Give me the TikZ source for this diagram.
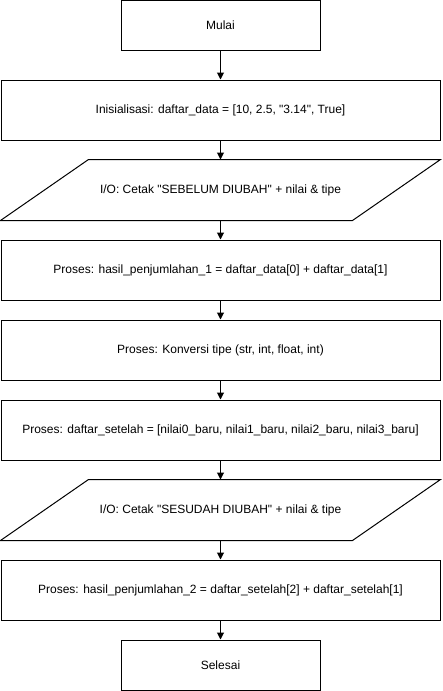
\documentclass[tikz,border=0pt]{standalone}
\usepackage{fontspec}
\setmainfont{Liberation Sans}[Ligatures=TeXOff]
\usetikzlibrary{calc,arrows.meta}
\begin{document}
\begin{tikzpicture}[x=1pt,y=-1pt,
  box/.style={draw, line width=1pt, minimum width=439pt, minimum height=60pt, inner sep=0pt, font=\fontsize{12}{14}\selectfont},
  term/.style={box, minimum width=199pt, minimum height=50pt},
  iobox/.style={box, draw=none},
  arr/.style={line width=1pt, -{Triangle[length=7pt,width=7pt]}}]
\useasboundingbox (0,0) rectangle (442,691);
\node[term] (mulai) at (220.5,25.5) {Mulai};
\node[box] (init) at (220.5,110) {Inisialisasi: daftar\_data = [10, 2.5, "3.14", True]};
\node[iobox] (io1) at (220.5,190) {I/O: Cetak "SEBELUM DIUBAH" + nilai \& tipe};
\draw[line width=1pt] ($(io1.north west)+(88,0)$) -- (io1.north east) -- ($(io1.south east)+(-88,0)$) -- (io1.south west) -- cycle;
\node[box] (p1) at (220.5,270) {Proses: hasil\_penjumlahan\_1 = daftar\_data[0] + daftar\_data[1]};
\node[box] (konv) at (220.5,350) {Proses: Konversi tipe (str, int, float, int)};
\node[box] (ds) at (220.5,430) {Proses: daftar\_setelah = [nilai0\_baru, nilai1\_baru, nilai2\_baru, nilai3\_baru]};
\node[iobox] (io2) at (220.5,510) {I/O: Cetak "SESUDAH DIUBAH" + nilai \& tipe};
\draw[line width=1pt] ($(io2.north west)+(88,0)$) -- (io2.north east) -- ($(io2.south east)+(-88,0)$) -- (io2.south west) -- cycle;
\node[box] (p2) at (220.5,590) {Proses: hasil\_penjumlahan\_2 = daftar\_setelah[2] + daftar\_setelah[1]};
\node[term] (selesai) at (220.5,665) {Selesai};
\draw[arr] (mulai.south) -- (init.north);
\draw[arr] (init.south) -- (io1.north);
\draw[arr] (io1.south) -- (p1.north);
\draw[arr] (p1.south) -- (konv.north);
\draw[arr] (konv.south) -- (ds.north);
\draw[arr] (ds.south) -- (io2.north);
\draw[arr] (io2.south) -- (p2.north);
\draw[arr] (p2.south) -- (selesai.north);
\end{tikzpicture}
\end{document}
